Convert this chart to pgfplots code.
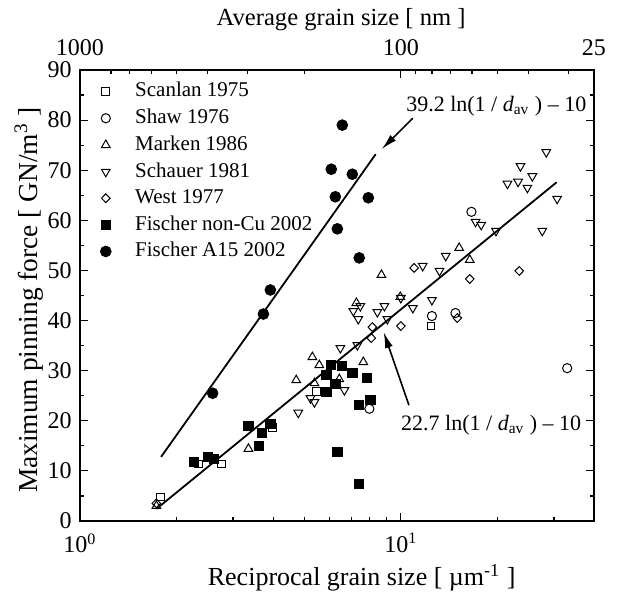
\documentclass[border=0pt]{standalone}
\usepackage{fontspec}
\setmainfont{Liberation Serif}
\usepackage{pgfplots}
\pgfplotsset{compat=1.18}
\usetikzlibrary{arrows.meta}
\begin{document}
\fontsize{12}{14}\selectfont
\begin{tikzpicture}
\begin{axis}[
  scale only axis, width=257pt, height=225.5pt,
  xmode=log, xmin=1, xmax=40, ymin=0, ymax=90,
  tick align=inside,
  major tick length=4pt, minor tick length=2pt,
  tick style={black, line width=0.6pt},
  axis line style={line width=1pt},
  /pgf/number format/assume math mode=true,
  tick label style={font=\fontsize{12}{14}\selectfont},
  xticklabel style={yshift=-2pt},
  xtick={1,10}, xticklabels={10\textsuperscript{0},10\textsuperscript{1}},
  minor xtick={2,3,4,5,6,7,8,9,20,30},
  xtick pos=left,
  ytick={0,10,...,90}, minor ytick={5,15,...,85},
  ytick pos=both, yticklabel pos=left,
  xlabel={Reciprocal grain size [ µm\textsuperscript{-1} ]},
  xlabel style={font=\fontsize{13}{15}\selectfont, at={(axis description cs:0.548,0)}, anchor=center, yshift=-28.5pt},
  ylabel={Maximum pinning force [ GN/m\textsuperscript{3} ]},
  ylabel style={font=\fontsize{13.7}{16}\selectfont, at={(axis description cs:0,0.49)}, anchor=center, yshift=25.5pt},
  legend cell align=left,
  legend style={draw=none, fill=none, at={(axis description cs:0,1)}, anchor=north west,
    xshift=7pt, yshift=-2pt,
    font=\fontsize{10.5}{12}\selectfont, row sep=0.3pt, column sep=10pt},
]
\addplot[only marks, mark=square, mark size=1.9pt, line width=0.5pt, black] coordinates {
(1.78,4.8)(2.34,11.4)(2.76,11.4)(3.98,18.6)(5.46,25.9)(12.4,38.9)};
\addlegendentry{Scanlan 1975}
\addplot[only marks, mark=o, mark size=2.3pt, line width=0.5pt, black] coordinates {
(7.98,22.4)(12.5,40.9)(14.8,41.5)(16.6,61.7)(33.0,30.5)};
\addlegendentry{Shaw 1976}
\addplot[only marks, mark=triangle, mark size=2.5pt, line width=0.5pt, black] coordinates {
(1.73,3.0)(3.35,14.4)(4.72,28.1)(5.30,32.7)(5.57,31.1)(5.38,27.5)(6.43,28.3)(7.64,31.7)
(7.27,43.5)(8.70,49.1)(9.96,44.7)(15.2,54.5)(16.4,52.1)};
\addlegendentry{Marken 1986}
\addplot[only marks, mark=triangle, mark options={rotate=180}, mark size=2.5pt, line width=0.5pt, black] coordinates {
(4.79,21.6)(5.23,24.5)(5.38,23.7)(6.48,34.5)(6.67,26.1)(7.32,35.1)(7.11,41.9)(7.48,42.9)
(7.37,40.3)(8.45,41.7)(8.89,42.9)(9.08,40.3)(10.0,44.5)(10.9,42.5)(12.5,44.1)(11.7,50.9)
(13.2,49.9)(13.8,52.9)(17.1,59.7)(17.8,59.1)(19.8,57.9)(27.6,57.9)(21.5,67.3)(23.2,67.7)
(24.8,66.5)(25.7,68.8)(30.7,64.3)(23.6,70.8)(28.4,73.6)};
\addlegendentry{Schauer 1981}
\addplot[only marks, mark=diamond, mark size=2.2pt, mark options={xscale=1.3}, line width=0.5pt, black] coordinates {
(1.73,3.5)(8.09,36.5)(8.15,38.7)(10.0,38.9)(11.0,50.5)(15.0,40.5)(16.4,48.3)(23.4,49.9)};
\addlegendentry{West 1977}
\addplot[only marks, mark=square*, mark size=2.3pt, black] coordinates {
(2.27,11.8)(2.51,12.8)(2.61,12.4)(3.35,19.0)(3.62,15.0)(3.70,17.6)(3.92,19.4)(6.07,31.1)
(6.57,30.9)(7.06,29.5)(7.86,28.5)(5.86,29.1)(6.25,27.3)(5.86,25.7)(8.04,24.1)(7.42,23.1)
(6.34,13.8)(7.42,7.4)};
\addlegendentry{Fischer non-Cu 2002}
\addplot[only marks, mark=*, mark size=2.7pt, black] coordinates {
(6.57,79.0)(6.07,70.2)(7.06,69.2)(6.25,64.7)(7.92,64.5)(6.34,58.3)(7.42,52.5)
(3.92,46.1)(3.73,41.3)(2.59,25.5)};
\addlegendentry{Fischer A15 2002}
\addplot[black, line width=0.9pt, forget plot] coordinates {(1.79,12.8)(8.35,73.2)};
\addplot[black, line width=0.9pt, forget plot] coordinates {(1.73,2.4)(30.6,67.6)};
\draw[-{Latex[length=8pt,width=4pt]}, line width=0.8pt] (axis cs:10.9,80.4) -- (axis cs:8.72,74.2);
\draw[-{Latex[length=8pt,width=4pt]}, line width=0.8pt] (axis cs:10.6,23.1) -- (axis cs:8.84,37.7);
\node[anchor=west, inner sep=0pt, font=\fontsize{11}{13}\selectfont] at (axis cs:10.37,82.8) {39.2 ln(1 / \textit{d}\textsubscript{av} ) – 10};
\node[anchor=west, inner sep=0pt, font=\fontsize{11}{13}\selectfont] at (axis cs:10.0,19.2) {22.7 ln(1 / \textit{d}\textsubscript{av} ) – 10};
\path (rel axis cs:0,0) ++(-40pt,-35pt) coordinate (bbbl);
\path (rel axis cs:1,1) ++(12pt,35pt) coordinate (bbtr);
\end{axis}
\begin{axis}[
  scale only axis, width=257pt, height=225.5pt,
  xmode=log, xmin=1, xmax=40, ymin=0, ymax=90,
  tick align=inside,
  major tick length=4pt, minor tick length=2pt,
  tick style={black, line width=0.6pt},
  axis line style={line width=1pt},
  tick label style={font=\fontsize{12}{14}\selectfont},
  xticklabel style={yshift=3pt},
  axis x line*=top, x axis line style={-},
  hide y axis,
  xtick={1,10,40}, xticklabels={1000,100,25},
  minor xtick={1.25,1.428571,1.666667,2,2.5,3.333333,5,11.11111,12.5,14.28571,16.66667,20,25,33.33333},
  xlabel={Average grain size [ nm ]},
  xlabel style={font=\fontsize{12.3}{14}\selectfont, at={(axis description cs:0.508,1)}, anchor=center, yshift=25pt},
]
\addplot[draw=none] coordinates {(1,0)(40,90)};
\end{axis}
\path (bbbl) rectangle (bbtr);
\end{tikzpicture}
\end{document}
